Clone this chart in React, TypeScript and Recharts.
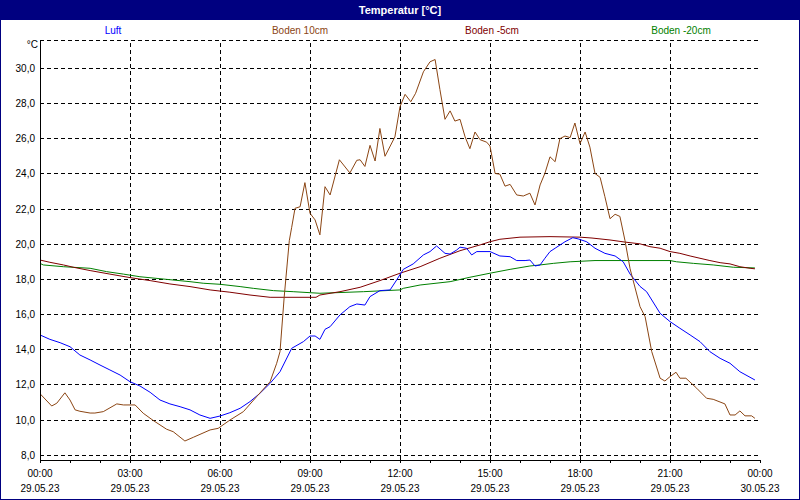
import { LineChart, Line, XAxis, YAxis, CartesianGrid, ReferenceLine } from "recharts"

// [hour, °C]
let luft: [number, number][] = [
  [0, 14.84], [0.33, 14.59], [0.67, 14.4], [1, 14.17], [1.33, 13.7], [1.67, 13.42], [2, 13.13],
  [2.33, 12.85], [2.67, 12.56], [3, 12.18], [3.33, 11.94], [3.67, 11.58], [4, 11.14], [4.33, 10.92],
  [4.67, 10.76], [5, 10.58], [5.33, 10.29], [5.67, 10.1], [6, 10.23], [6.33, 10.42], [6.67, 10.67],
  [7, 11.05], [7.33, 11.52], [7.67, 12.09], [8, 12.75], [8.39, 14.08], [8.78, 14.46], [9, 14.78],
  [9.17, 14.78], [9.33, 14.59], [9.5, 15.16], [9.67, 15.31], [10, 15.98], [10.33, 16.45], [10.56, 16.6],
  [10.83, 16.54], [11, 17.02], [11.33, 17.36], [11.67, 17.4], [11.89, 17.97], [12.11, 18.57],
  [12.44, 18.88], [12.78, 19.39], [13, 19.58], [13.22, 19.9], [13.5, 19.48], [13.67, 19.44],
  [13.89, 19.67], [14, 19.83], [14.22, 19.77], [14.39, 19.39], [14.56, 19.58], [15, 19.58],
  [15.33, 19.33], [15.67, 19.29], [15.89, 19.07], [16.17, 19.07], [16.33, 19.1], [16.5, 18.76],
  [16.67, 18.82], [16.83, 19.2], [17, 19.58], [17.17, 19.77], [17.5, 20.14], [17.76, 20.37],
  [17.94, 20.3], [18.22, 20.14], [18.5, 19.77], [18.83, 19.48], [19.17, 19.33], [19.44, 19.0],
  [19.67, 18.3], [20, 17.6], [20.22, 17.3], [20.67, 16.07], [21, 15.6], [21.33, 15.22], [21.67, 14.84],
  [22, 14.46], [22.33, 13.89], [22.67, 13.51], [23, 13.23], [23.33, 12.75], [23.83, 12.28],
]

let boden10: [number, number][] = [
  [0, 11.5], [0.39, 10.8], [0.56, 10.96], [0.83, 11.55], [1, 11.14], [1.17, 10.58], [1.33, 10.5],
  [1.67, 10.4], [1.83, 10.4], [2.11, 10.48], [2.56, 10.92], [2.78, 10.86], [3.17, 10.86], [3.44, 10.39],
  [3.78, 9.97], [4.22, 9.48], [4.44, 9.34], [4.83, 8.81], [5.11, 9.02], [5.67, 9.44], [5.94, 9.53],
  [6.33, 10.0], [6.78, 10.48], [7.22, 11.33], [7.67, 12.18], [7.89, 13.23], [8, 13.89], [8.14, 17.0],
  [8.31, 20.2], [8.39, 20.96], [8.5, 22.04], [8.67, 22.13], [8.83, 23.5], [9, 21.76], [9.17, 21.38],
  [9.33, 20.53], [9.5, 23.27], [9.67, 22.8], [9.98, 24.8], [10.33, 24.05], [10.56, 24.77], [10.67, 24.8],
  [10.83, 24.42], [11, 25.62], [11.17, 24.73], [11.33, 26.58], [11.5, 25.0], [11.83, 26.1], [12, 27.82],
  [12.17, 28.52], [12.36, 28.1], [12.52, 28.58], [12.78, 29.8], [13, 30.37], [13.17, 30.5], [13.33, 28.8],
  [13.5, 27.1], [13.67, 27.58], [13.83, 27.0], [14, 27.1], [14.17, 26.1], [14.33, 25.43], [14.5, 26.38],
  [14.67, 25.94], [14.89, 25.8], [15, 25.58], [15.17, 24.02], [15.33, 23.98], [15.5, 23.3], [15.67, 23.4],
  [15.89, 22.8], [16.11, 22.74], [16.33, 22.9], [16.5, 22.23], [16.67, 23.37], [16.83, 24.03], [17, 24.97],
  [17.17, 24.69], [17.33, 26.0], [17.5, 26.15], [17.67, 26.06], [17.83, 26.89], [18, 25.72], [18.17, 26.38],
  [18.33, 25.52], [18.5, 24.02], [18.67, 23.8], [18.83, 22.7], [19, 21.45], [19.17, 21.7], [19.33, 21.58],
  [19.5, 20.2], [19.67, 18.6], [20, 16.45], [20.17, 15.88], [20.39, 13.9], [20.67, 12.38], [20.83, 12.22],
  [21, 12.47], [21.2, 12.72], [21.33, 12.38], [21.53, 12.38], [21.89, 11.81], [22.22, 11.24], [22.44, 11.18],
  [22.83, 10.92], [23, 10.29], [23.17, 10.29], [23.33, 10.52], [23.5, 10.24], [23.72, 10.24], [23.83, 10.1],
]

let bodenM5: [number, number][] = [
  [0, 19.1], [0.33, 18.97], [0.78, 18.82], [1.11, 18.69], [1.67, 18.5], [2.33, 18.3], [3, 18.1],
  [3.67, 17.93], [4.33, 17.74], [5, 17.59], [5.67, 17.4], [6.33, 17.27], [7, 17.11], [7.67, 16.98],
  [9.2, 16.98], [9.33, 17.11], [10, 17.3], [10.67, 17.55], [11.33, 17.93], [12, 18.35], [12.67, 18.72],
  [13.33, 19.2], [14, 19.63], [14.67, 19.96], [15, 20.14], [15.33, 20.28], [16, 20.4], [17, 20.43],
  [18, 20.4], [18.4, 20.35], [19, 20.24], [19.5, 20.12], [20, 20.02], [20.33, 19.86], [20.67, 19.77],
  [21, 19.58], [21.33, 19.48], [21.67, 19.33], [22, 19.2], [22.33, 19.07], [22.67, 18.95], [23, 18.88],
  [23.33, 18.72], [23.67, 18.63], [23.83, 18.6],
]

let bodenM20: [number, number][] = [
  [0, 18.91], [0.11, 18.82], [0.78, 18.72], [1.67, 18.63], [2.22, 18.44], [2.78, 18.3], [3.33, 18.15],
  [4.22, 18.0], [5, 17.87], [5.44, 17.78], [6, 17.72], [6.67, 17.59], [7.11, 17.49], [7.78, 17.36],
  [8.44, 17.3], [9.33, 17.21], [10.78, 17.3], [12, 17.4], [12.11, 17.49], [12.67, 17.68], [13.67, 17.87],
  [14.33, 18.12], [15, 18.35], [15.67, 18.57], [16.33, 18.76], [16.67, 18.82], [17.11, 18.91], [17.67, 19.0],
  [18.5, 19.07], [21, 19.07], [21.22, 19.0], [21.78, 18.91], [22.44, 18.82], [23.11, 18.69], [23.83, 18.65],
]

let yTicks = [8, 10, 12, 14, 16, 18, 20, 22, 24, 26, 28, 30]
let hourTicks = Array.from({ length: 25 }, (_, i) => i)
let gridHours = [3, 6, 9, 12, 15, 18, 21]
let timeLabels = ["00:00", "03:00", "06:00", "09:00", "12:00", "15:00", "18:00", "21:00", "00:00"]
let dateLabels = ["29.05.23", "29.05.23", "29.05.23", "29.05.23", "29.05.23", "29.05.23", "29.05.23", "29.05.23", "30.05.23"]

let series = [
  { name: "Luft", data: luft, color: "#0000ff", legendX: 113 },
  { name: "Boden 10cm", data: boden10, color: "#8b4513", legendX: 300 },
  { name: "Boden -5cm", data: bodenM5, color: "#800000", legendX: 492 },
  { name: "Boden -20cm", data: bodenM20, color: "#008000", legendX: 681 },
]

let font = "'Liberation Sans', Arial, sans-serif"

let toRows = (d: [number, number][]) => d.map(([t, v]) => ({ t, v }))

let HourTick = ({ x, y, payload }: any) => {
  let h = payload.value
  if (h % 3 !== 0) return null
  let i = h / 3
  return (
    <g>
      <text x={x} y={y + 14} textAnchor="middle" fontSize={10} fontFamily={font} fill="#000">{timeLabels[i]}</text>
      <text x={x} y={y + 29} textAnchor="middle" fontSize={10} fontFamily={font} fill="#000">{dateLabels[i]}</text>
    </g>
  )
}

export default function App() {
  let order = [series[3], series[2], series[0], series[1]]
  return (
    <div style={{ position: "absolute", left: 0, top: 0, width: 800, height: 500, background: "#fff", fontFamily: font }}>
      <LineChart width={800} height={500} margin={{ top: 40, right: 40, bottom: 0, left: 0 }}>
        <CartesianGrid vertical={false} stroke="#000" strokeDasharray="4 3" shapeRendering="crispEdges" />
        <XAxis
          dataKey="t"
          type="number"
          domain={[0, 24]}
          ticks={hourTicks}
          interval={0}
          height={40}
          axisLine={{ stroke: "#000", shapeRendering: "crispEdges" }}
          tickLine={{ stroke: "#000", shapeRendering: "crispEdges" }}
          tickSize={3}
          tickMargin={0}
          tick={<HourTick />}
          allowDataOverflow
        />
        <XAxis xAxisId="top" orientation="top" type="number" domain={[0, 24]} height={0} tick={false} tickLine={false} axisLine={{ stroke: "#000", shapeRendering: "crispEdges" }} />
        <YAxis
          type="number"
          domain={[7.73, 31.61]}
          ticks={yTicks}
          interval={0}
          width={40}
          allowDataOverflow
          axisLine={{ stroke: "#000", shapeRendering: "crispEdges" }}
          tickLine={false}
          tickSize={3}
          tickMargin={2}
          tick={{ fontSize: 10, fontFamily: font, fill: "#000" }}
          tickFormatter={(v: number) => v.toFixed(1).replace(".", ",")}
        />
        <YAxis yAxisId="right" orientation="right" type="number" domain={[7.73, 31.61]} width={0} tick={false} tickLine={false} axisLine={{ stroke: "#000", shapeRendering: "crispEdges" }} />
        {gridHours.map((h) => (
          <ReferenceLine key={h} x={h} stroke="#000" strokeDasharray="4 3" shapeRendering="crispEdges" />
        ))}
        {order.map((s) => (
          <Line
            key={s.name}
            data={toRows(s.data)}
            dataKey="v"
            type="linear"
            stroke={s.color}
            strokeWidth={1}
            dot={false}
            isAnimationActive={false}
          />
        ))}
      </LineChart>
      <div style={{ position: "absolute", left: 0, top: 0, width: 800, height: 20, background: "#000080", color: "#fff", fontWeight: "bold", fontSize: 11, lineHeight: "20px", textAlign: "center" }}>
        Temperatur [°C]
      </div>
      {series.map((s) => (
        <div key={s.name} style={{ position: "absolute", top: 24, left: s.legendX - 60, width: 120, textAlign: "center", fontSize: 10, color: s.color, lineHeight: "14px" }}>
          {s.name}
        </div>
      ))}
      <div style={{ position: "absolute", top: 38, left: 10, width: 28, textAlign: "right", fontSize: 10, lineHeight: "14px", color: "#000" }}>°C</div>
      <div style={{ position: "absolute", left: 0, top: 0, width: 800, height: 500, boxSizing: "border-box", border: "1px solid #000080", pointerEvents: "none" }} />
    </div>
  )
}
